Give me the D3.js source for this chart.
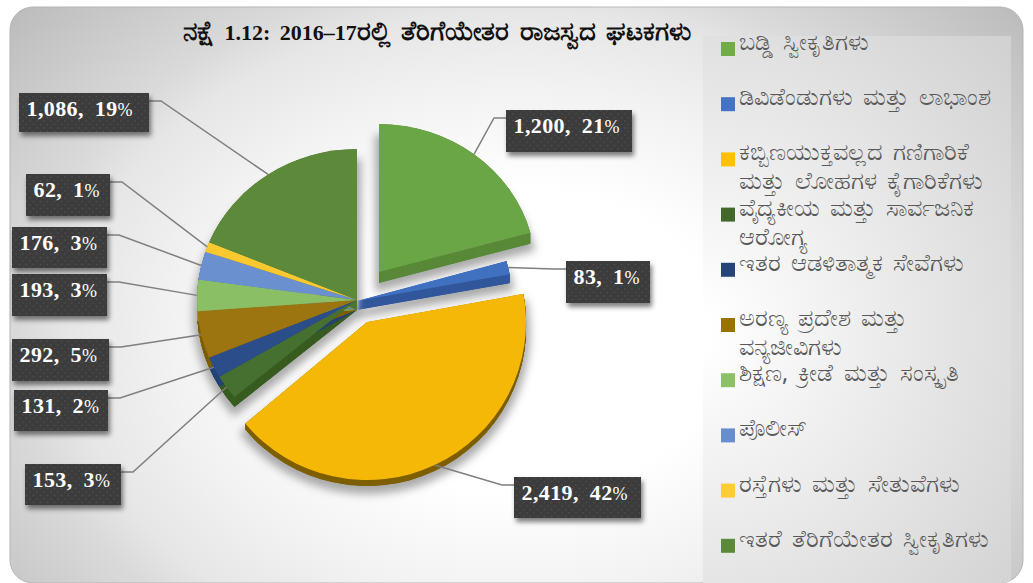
<!DOCTYPE html>
<html>
<head>
<meta charset="utf-8">
<script src="https://cdn.jsdelivr.net/npm/d3@7"></script>
<style>
  body { margin: 0; background: #fff; }
  svg { display: block; }
</style>
</head>
<body>
<script>
var categories = [
  "ಬಡ್ಡಿ ಸ್ವೀಕೃತಿಗಳು",
  "ಡಿವಿಡೆಂಡುಗಳು ಮತ್ತು ಲಾಭಾಂಶ",
  "ಕಬ್ಬಿಣಯುಕ್ತವಲ್ಲದ ಗಣಿಗಾರಿಕೆ|ಮತ್ತು ಲೋಹಗಳ ಕೈಗಾರಿಕೆಗಳು",
  "ವೈದ್ಯಕೀಯ ಮತ್ತು ಸಾರ್ವಜನಿಕ|ಆರೋಗ್ಯ",
  "ಇತರ ಆಡಳಿತಾತ್ಮಕ ಸೇವೆಗಳು",
  "ಅರಣ್ಯ ಪ್ರದೇಶ ಮತ್ತು|ವನ್ಯಜೀವಿಗಳು",
  "ಶಿಕ್ಷಣ, ಕ್ರೀಡೆ ಮತ್ತು ಸಂಸ್ಕೃತಿ",
  "ಪೊಲೀಸ್",
  "ರಸ್ತೆಗಳು ಮತ್ತು ಸೇತುವೆಗಳು",
  "ಇತರೆ ತೆರಿಗೆಯೇತರ ಸ್ವೀಕೃತಿಗಳು"
];
var values = [1200, 83, 2419, 153, 131, 292, 193, 176, 62, 1086];
var percents = [21, 1, 42, 3, 2, 5, 3, 3, 1, 19];
var colors = ["#70ad47", "#4472c4", "#ffc000", "#43682b", "#264478", "#997300", "#8cc168", "#698ed0", "#ffcd33", "#5a8a39"];
var faceColors = ["#6aa546", "#4070c0", "#f5b807", "#46702f", "#2b4d8a", "#9c7410", "#8abf66", "#6b90d0", "#fcc82f", "#5d8a3a"];
var sideColors = ["#5a8a39", "#33589c", "#7f6000", "#3a5e22", "#264478", "#7f6000", "#74a652", "#5a7cb8", "#d9a826", "#4d7a30"];
var titleParts = ["ನಕ್ಷೆ ", "1.12: 2016–17", "ರಲ್ಲಿ ತೆರಿಗೆಯೇತರ ರಾಜಸ್ವದ ಘಟಕಗಳು"];

var w = 1033, h = 583;
var rx = 160, ry = 151, depth = 10;

var svg = d3.select("body").append("svg").attr("width", w).attr("height", h);
var defs = svg.append("defs");

var bg = defs.append("radialGradient").attr("id", "panel")
  .attr("cx", 0.5).attr("cy", 0.58).attr("r", 0.68)
  .attr("gradientTransform", "translate(0.5,0.58) scale(1,1.3) translate(-0.5,-0.58)");
bg.append("stop").attr("offset", "0.3").attr("stop-color", "#ffffff");
bg.append("stop").attr("offset", "0.5").attr("stop-color", "#f2f2f2");
bg.append("stop").attr("offset", "0.65").attr("stop-color", "#e6e6e6");
bg.append("stop").attr("offset", "0.72").attr("stop-color", "#dadada");
bg.append("stop").attr("offset", "1").attr("stop-color", "#b9b9b9");

var lg = defs.append("radialGradient").attr("id", "legendBg").attr("gradientUnits", "userSpaceOnUse")
  .attr("cx", 690).attr("cy", 330).attr("r", 420);
lg.append("stop").attr("offset", "0.05").attr("stop-color", "#ffffff");
lg.append("stop").attr("offset", "1").attr("stop-color", "#d2d2d2");

var pat = defs.append("pattern").attr("id", "dots").attr("patternUnits", "userSpaceOnUse")
  .attr("width", 7).attr("height", 7);
pat.append("rect").attr("width", 7).attr("height", 7).attr("fill", "#3c3c3c");
pat.append("circle").attr("cx", 2).attr("cy", 2).attr("r", 0.8).attr("fill", "#505050");
pat.append("circle").attr("cx", 5.5).attr("cy", 5.5).attr("r", 0.8).attr("fill", "#505050");

defs.append("filter").attr("id", "blurPie").attr("x", "-30%").attr("y", "-30%").attr("width", "160%").attr("height", "160%")
  .append("feGaussianBlur").attr("stdDeviation", 4);
defs.append("filter").attr("id", "blurBox").attr("x", "-20%").attr("y", "-30%").attr("width", "140%").attr("height", "170%")
  .append("feGaussianBlur").attr("stdDeviation", 2.5);
defs.append("clipPath").attr("id", "legendClip").append("rect")
  .attr("x", 703).attr("y", 36).attr("width", 308).attr("height", 547);
defs.append("clipPath").attr("id", "panelClip").append("rect")
  .attr("x", 10).attr("y", 7).attr("width", 1013).attr("height", 576).attr("rx", 23);

// panel
svg.append("rect").attr("x", 10).attr("y", 7).attr("width", 1013).attr("height", 576)
  .attr("rx", 23).attr("fill", "url(#panel)").attr("stroke", "#b5b5b5").attr("stroke-width", 1);
svg.append("rect").attr("x", 703).attr("y", 36).attr("width", 308).attr("height", 547).attr("fill", "url(#legendBg)")
  .attr("clip-path", "url(#panelClip)");

// title, the digits run smaller than the kannada
var titleText = svg.append("text").attr("x", 183).attr("y", 40)
  .style("font-family", "'Liberation Serif', serif").style("font-weight", "bold")
  .style("word-spacing", "4px").attr("fill", "#111");
titleParts.forEach(function(t, i) {
  titleText.append("tspan").style("font-size", i == 1 ? "22px" : "26px").text(t);
});

// pie
var pie = d3.pie().sort(null).value(function(d) { return d; });
var slices = pie(values);
var arc = d3.arc().innerRadius(0).outerRadius(1);

// pulled out slices sit at another tip and look a little different in size
var cx = 357, cy = 300;
var pulled = {
  0: { dx: 22, dy: -28, rx: 157, ry: 148, depth: 11 },
  1: { dx: 0, dy: 1, rx: 155, ry: 150, depth: 9 },
  2: { dx: 10, dy: 22, rx: 159, ry: 158, depth: 6 }
};
function place(i) {
  var p = pulled[i] || { dx: 0, dy: 0, rx: rx, ry: ry, depth: depth };
  return { x: cx + p.dx, y: cy + p.dy, rx: p.rx, ry: p.ry, depth: p.depth };
}
function at(p, down) {
  return "translate(" + p.x + "," + (p.y + down) + ") scale(" + p.rx + "," + p.ry + ")";
}

var pieG = svg.append("g");

var shadow = pieG.append("g").attr("filter", "url(#blurPie)").attr("opacity", 0.75);
slices.forEach(function(s, i) {
  var p = place(i);
  shadow.append("path").attr("d", arc(s)).attr("transform", at(p, p.depth + 4))
    .attr("fill", "#8f8f8f").attr("stroke", "#8f8f8f").attr("stroke-width", 8)
    .attr("vector-effect", "non-scaling-stroke");
});

// side walls, thin steps so the narrow wedges do not leave stripes near the tip
slices.forEach(function(s, i) {
  var p = place(i);
  d3.range(p.depth, 0, -0.25).forEach(function(k) {
    pieG.append("path").attr("d", arc(s)).attr("fill", sideColors[i]).attr("transform", at(p, k));
  });
});
slices.forEach(function(s, i) {
  pieG.append("path").attr("d", arc(s)).attr("fill", faceColors[i]).attr("transform", at(place(i), 0));
});

// labels: box left, top, width and height, and the side the leader leaves from
var boxes = [
  [506, 110, 126, 42, "left"], [566, 261, 84, 42, "left"], [514, 477, 127, 41, "left"],
  [25, 464, 96, 41, "right"], [14, 390, 94, 41, "right"], [12, 339, 97, 42, "right"],
  [12, 274, 95, 42, "right"], [12, 227, 95, 41, "right"], [26, 174, 84, 42, "right"], [19, 93, 130, 39, "right"]
];
var fmt = d3.format(",");

var leaders = svg.append("g").attr("fill", "none").attr("stroke", "#7f7f7f").attr("stroke-width", 1.5);
var labels = svg.append("g");
slices.forEach(function(s, i) {
  var b = boxes[i], p = place(i);
  var mid = (s.startAngle + s.endAngle) / 2;
  var ax = p.x + p.rx * Math.sin(mid), ay = p.y - p.ry * Math.cos(mid);
  var ly = b[1] + 8;
  var x0 = b[4] == "left" ? b[0] : b[0] + b[2];
  var x1 = b[4] == "left" ? x0 - 12 : x0 + 12;
  leaders.append("path").attr("d", d3.line()([[x0, ly], [x1, ly], [ax, ay]]));

  labels.append("rect").attr("x", b[0] + 2).attr("y", b[1] + 4).attr("width", b[2]).attr("height", b[3])
    .attr("fill", "#000").attr("opacity", 0.5).attr("filter", "url(#blurBox)");
  labels.append("rect").attr("x", b[0]).attr("y", b[1]).attr("width", b[2]).attr("height", b[3]).attr("fill", "url(#dots)");
  var txt = labels.append("text").attr("x", b[0] + 7.5).attr("y", b[1] + 23)
    .attr("fill", "#fff").style("font-family", "'Liberation Serif', serif").style("font-weight", "bold")
    .style("font-size", "22px").style("word-spacing", "5px").style("letter-spacing", "0.4px");
  txt.append("tspan").text(fmt(values[i]) + ", " + percents[i]);
  txt.append("tspan").style("font-size", "18px").style("font-weight", "normal").text("%");
});

// legend
var legend = svg.append("g").attr("clip-path", "url(#legendClip)");
var legendStep = 55.2;
categories.forEach(function(c, i) {
  var y = 42 + i * legendStep;
  legend.append("rect").attr("x", 721).attr("y", y).attr("width", 14).attr("height", 14).attr("fill", colors[i]);
  c.split("|").forEach(function(line, j) {
    legend.append("text").attr("x", 739).attr("y", y + 8 + j * 29).attr("fill", "#595959")
      .style("font-family", "'Noto Sans', sans-serif").style("font-size", "23.5px").style("word-spacing", "4px").text(line);
  });
});
</script>
</body>
</html>
